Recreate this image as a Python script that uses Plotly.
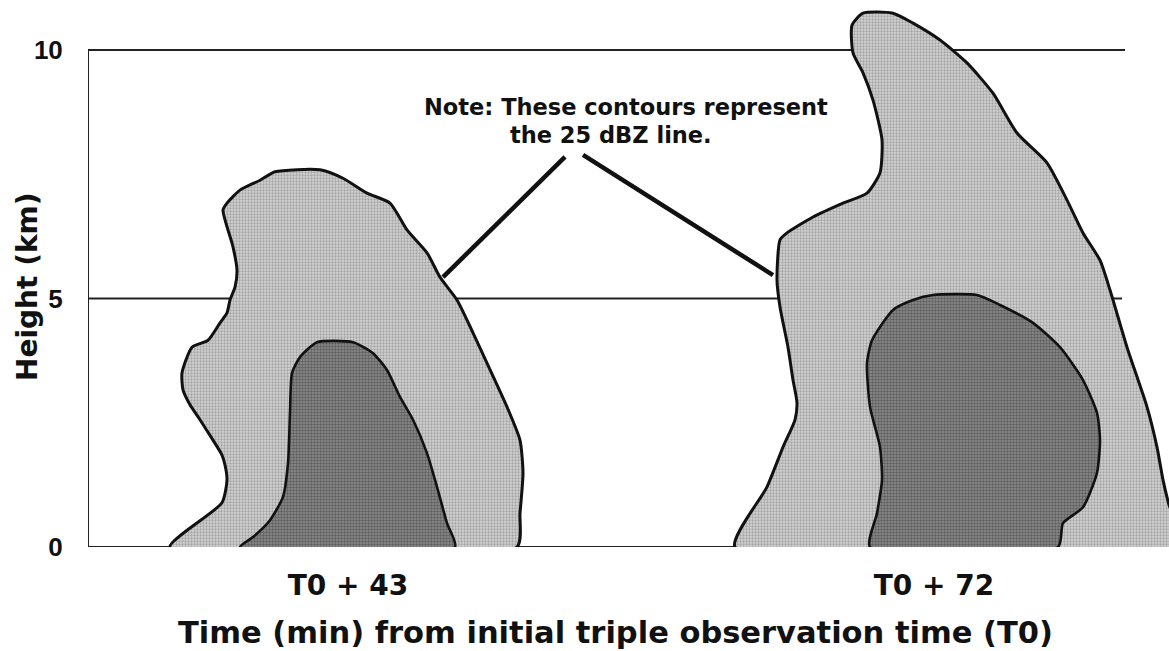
import plotly.graph_objects as go

# Horizontal position along the cross-section (arbitrary units) and height (km)
# for the 25 dBZ contour and the inner core of each storm.
storm43_outer_x = [8.2, 13.4, 13.9, 13.7, 13.4, 12.5, 11.2, 10.2, 9.5, 9.4, 10.4, 12.0, 13.2,
                   13.9, 14.2, 14.7, 14.9, 14.5, 13.5, 13.9, 15.2, 17.2, 18.7, 23.2, 25.5,
                   27.9, 30.2, 31.9, 33.9, 35.2, 36.9, 38.5, 39.9, 41.9, 43.2, 43.5, 43.2, 42.9]
storm43_outer_y = [0.0, 0.89, 1.35, 1.65, 1.85, 2.15, 2.56, 2.86, 3.16, 3.50, 4.02, 4.16, 4.51,
                   4.71, 4.97, 5.23, 5.57, 6.04, 6.78, 6.92, 7.18, 7.38, 7.55, 7.59, 7.42,
                   7.12, 6.92, 6.38, 5.92, 5.43, 4.97, 4.31, 3.70, 2.82, 2.15, 1.49, 0.68, 0.0]

storm43_core_x = [15.2, 16.5, 18.2, 19.5, 20.0, 20.2, 20.4, 21.2, 22.9, 26.5, 28.5, 29.9,
                  31.2, 32.5, 33.9, 34.9, 35.9, 36.7]
storm43_core_y = [0.0, 0.20, 0.54, 1.01, 1.69, 2.70, 3.50, 3.82, 4.12, 4.12, 3.90, 3.56,
                  3.02, 2.56, 1.89, 1.21, 0.48, 0.0]

storm72_outer_x = [64.7, 67.9, 69.5, 70.7, 70.9, 70.5, 70.0, 69.2, 68.9, 69.2, 69.9, 72.5,
                   75.5, 77.9, 79.2, 79.4, 78.5, 77.5, 76.5, 76.4, 77.5, 80.5, 82.5, 85.2,
                   87.9, 90.5, 92.9, 95.9, 97.9, 99.5, 101.2, 102.2, 103.9, 105.9, 106.9,
                   107.5, 108.1, 109.5]
storm72_outer_y = [0.0, 1.21, 2.01, 2.56, 2.90, 3.36, 4.02, 4.83, 5.37, 6.18, 6.32, 6.64,
                   6.92, 7.12, 7.53, 8.19, 8.99, 9.54, 9.94, 10.50, 10.74, 10.74, 10.54, 10.20,
                   9.74, 9.13, 8.33, 7.73, 6.98, 6.32, 5.77, 5.17, 4.02, 2.82, 2.01,
                   1.35, 0.85, 0.0]

storm72_core_x = [78.2, 78.9, 79.4, 79.2, 78.2, 77.9, 78.4, 80.5, 82.5, 84.5, 88.9, 91.2,
                  94.5, 97.2, 99.5, 100.9, 101.2, 100.9, 99.5, 97.5, 97.0]
storm72_core_y = [0.0, 0.68, 1.35, 2.01, 2.82, 3.70, 4.16, 4.77, 4.97, 5.07, 5.07, 4.87,
                  4.51, 4.02, 3.36, 2.70, 2.15, 1.49, 0.80, 0.48, 0.0]

# Leader lines from the note to each 25 dBZ contour
leader_left_x = [35.5, 47.7]
leader_left_y = [5.43, 7.85]
leader_right_x = [49.5, 68.5]
leader_right_y = [7.89, 5.47]

time_tick_pos = [26.0, 84.6]
time_tick_text = ["T0 + 43", "T0 + 72"]
height_ticks = [0, 5, 10]
height_tick_text = ["0", "5", "10"]

note_lines = ["Note: These contours represent", "the 25 dBZ line."]

BOLD = "DejaVu Sans"

outer_pattern = dict(shape=".", bgcolor="#d2d2d2", fgcolor="#767676", size=3, solidity=0.45)
core_pattern = dict(shape=".", bgcolor="#8e8e8e", fgcolor="#2e2e2e", size=3, solidity=0.5)


def closed(xs, ys):
    return list(xs) + [xs[0]], list(ys) + [ys[0]]


fig = go.Figure()

for ox, oy, cx, cy in [
    (storm43_outer_x, storm43_outer_y, storm43_core_x, storm43_core_y),
    (storm72_outer_x, storm72_outer_y, storm72_core_x, storm72_core_y),
]:
    x, y = closed(ox, oy)
    fig.add_trace(go.Scatter(x=x, y=y, mode="lines", fill="toself",
                             fillcolor="#c2c2c2", fillpattern=outer_pattern,
                             line=dict(color="#111111", width=3, shape="spline", smoothing=0.6),
                             hoverinfo="skip", showlegend=False))
    x, y = closed(cx, cy)
    fig.add_trace(go.Scatter(x=x, y=y, mode="lines", fill="toself",
                             fillcolor="#666666", fillpattern=core_pattern,
                             line=dict(color="#111111", width=2.6, shape="spline", smoothing=0.6),
                             hoverinfo="skip", showlegend=False))

for lx, ly in [(leader_left_x, leader_left_y), (leader_right_x, leader_right_y)]:
    fig.add_trace(go.Scatter(x=lx, y=ly, mode="lines",
                             line=dict(color="#111111", width=4.5),
                             hoverinfo="skip", showlegend=False))

# Reference lines at 0, 5 and 10 km plus the left frame line
line_style = dict(color="#222222", width=2)
fig.add_shape(type="line", x0=0, x1=103.7, y0=10, y1=10, line=line_style, layer="below")
fig.add_shape(type="line", x0=0, x1=103.4, y0=5, y1=5, line=line_style, layer="below")
fig.add_shape(type="line", x0=0, x1=103.7, y0=0, y1=0, line=line_style, layer="below")
fig.add_shape(type="line", x0=0, x1=0, y0=0, y1=10, line=line_style, layer="below")

fig.add_annotation(x=53.8, y=8.85, text=note_lines[0], showarrow=False,
                   font=dict(family=BOLD, size=22.5, color="#111111", weight="bold"))
fig.add_annotation(x=52.3, y=8.29, text=note_lines[1], showarrow=False,
                   font=dict(family=BOLD, size=22.5, color="#111111", weight="bold"))

fig.add_annotation(xref="paper", yref="paper", x=(615 - 88) / 1081, y=-(632 - 547) / 547,
                   text="Time (min) from initial triple observation time (T0)",
                   showarrow=False, xanchor="center", yanchor="middle",
                   font=dict(family=BOLD, size=30.5, color="#111111", weight="bold"))
fig.add_annotation(xref="paper", yref="paper", x=-(88 - 27) / 1081, y=(547 - 287) / 547,
                   text="Height (km)", textangle=-90,
                   showarrow=False, xanchor="center", yanchor="middle",
                   font=dict(family=BOLD, size=28, color="#111111", weight="bold"))

fig.update_xaxes(range=[0, 108.1], showgrid=False, zeroline=False, showline=False,
                 tickvals=time_tick_pos, ticktext=time_tick_text,
                 ticks="outside", ticklen=13, tickcolor="rgba(0,0,0,0)",
                 tickfont=dict(family=BOLD, size=28, color="#111111", weight="bold"))
fig.update_yaxes(range=[0, 547 / 49.7], showgrid=False, zeroline=False, showline=False,
                 tickvals=height_ticks, ticktext=height_tick_text,
                 ticks="outside", ticklen=19, tickcolor="rgba(0,0,0,0)",
                 tickfont=dict(family="Liberation Sans", size=26, color="#111111", weight="bold"))

fig.update_layout(width=1169, height=651, margin=dict(l=88, r=0, t=0, b=104),
                  paper_bgcolor="white", plot_bgcolor="white", showlegend=False)

fig.write_html("out.html", config={"displayModeBar": False})
